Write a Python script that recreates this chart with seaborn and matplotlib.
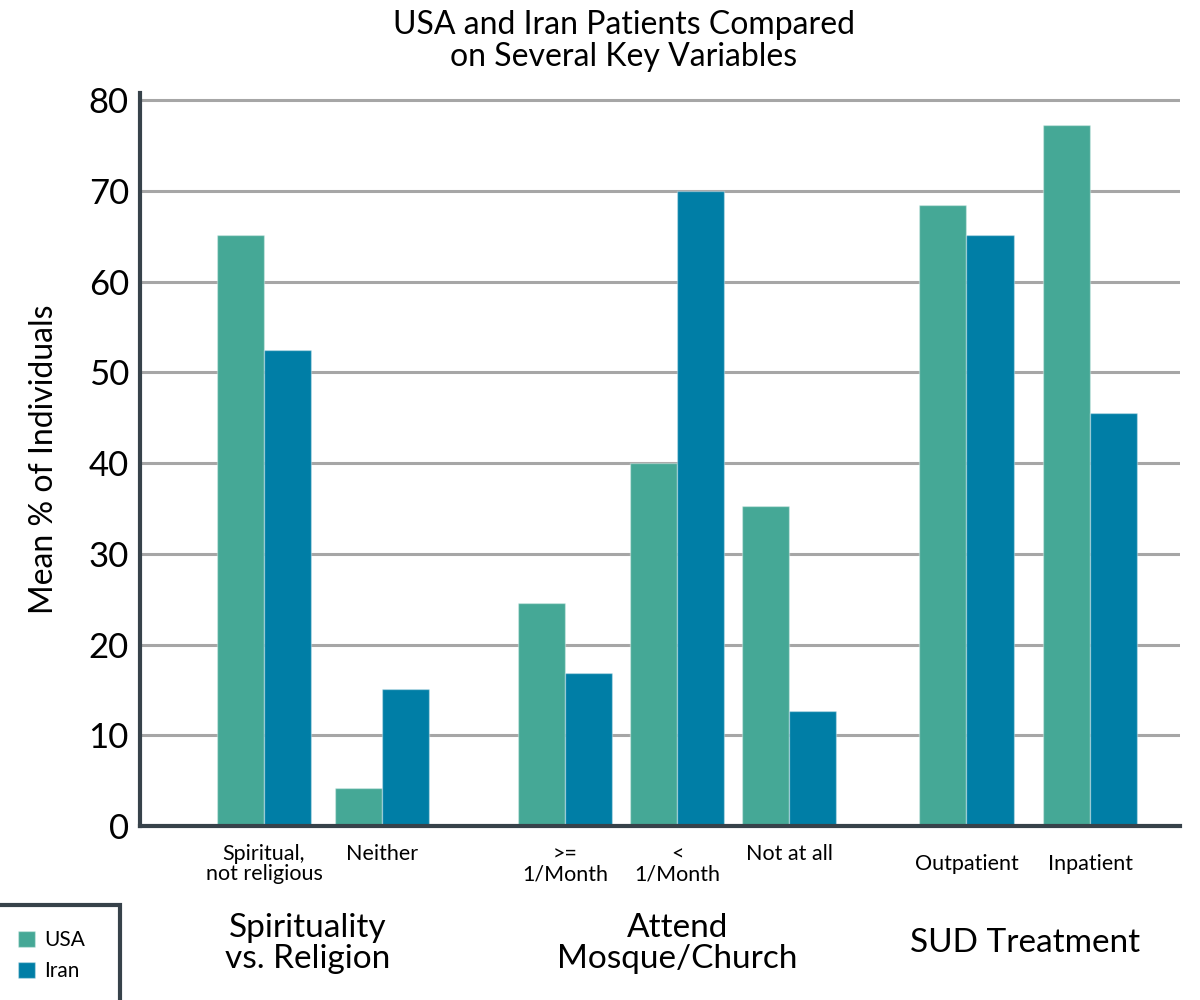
import seaborn as sns
import pandas as pd
import matplotlib.pyplot as plt
import matplotlib.transforms as mtransforms
from matplotlib.patches import Rectangle

# Values
categories = ["Spiritual,\nnot religious", "Neither", ">=\n1/Month", "<\n1/Month",
              "Not at all", "Outpatient", "Inpatient"]
usa = [65.2, 4.2, 24.6, 40.0, 35.3, 68.5, 77.3]
iran = [52.5, 15.1, 16.9, 70.0, 12.7, 65.2, 45.5]
groups = ["Spirituality\nvs. Religion", "Attend\nMosque/Church", "SUD Treatment"]
y_ticks = [0, 10, 20, 30, 40, 50, 60, 70, 80]

# layout: slot position of each category (gaps between groups) and of group labels
slots = [0, 1, 2.55, 3.5, 4.45, 5.95, 7.0]
group_slots = [0.37, 3.5, 6.45]

df = pd.DataFrame({
    "slot": slots * 2,
    "value": usa + iran,
    "country": ["USA"] * len(usa) + ["Iran"] * len(iran),
})

sns.set_style("white")
plt.rcParams["font.family"] = ["Lato", "DejaVu Sans"]
plt.rcParams["text.color"] = "black"
plt.rcParams["axes.labelcolor"] = "black"
plt.rcParams["ytick.color"] = "black"

fig = plt.figure(figsize=(12, 10), dpi=100)
ax = fig.add_axes([0.1167, 0.174, 0.8667, 0.733])

sns.barplot(data=df, x="slot", y="value", hue="country", native_scale=True,
            palette={"USA": "#45A896", "Iran": "#007EA6"}, saturation=1,
            width=0.84, edgecolor=(1, 1, 1, 0.35), linewidth=1, ax=ax, zorder=2)

ax.set_xlim(-1.05, 7.76)
ax.set_ylim(0, 80.8)
ax.set_yticks(y_ticks)
ax.set_yticklabels([str(t) for t in y_ticks], fontsize=25)
ax.tick_params(axis="y", length=0, pad=8)
ax.set_xticks([])
ax.set_xlabel("")
ax.set_ylabel("Mean % of Individuals", fontsize=23, labelpad=21)

ax.grid(axis="y", color="#A6A6A6", linewidth=2.2, zorder=0)
ax.set_axisbelow(True)
for side in ["top", "right"]:
    ax.spines[side].set_visible(False)
for side in ["left", "bottom"]:
    ax.spines[side].set_color("#37424A")
    ax.spines[side].set_linewidth(3)

# category labels under the bars
trans = mtransforms.blended_transform_factory(ax.transData, ax.transAxes)
for i, (s, lab) in enumerate(zip(slots, categories)):
    yoff = -0.025 if i < 5 else -0.038
    ax.text(s, yoff, lab, transform=trans, ha="center", va="top",
            fontsize=15.5, linespacing=1.0)

# group labels
for s, g in zip(group_slots, groups):
    ax.text(s, -0.16, g, transform=trans, ha="center", va="center",
            fontsize=24, linespacing=1.05)

fig.suptitle("USA and Iran Patients Compared\non Several Key Variables",
             x=0.52, y=0.99, fontsize=23, linespacing=1.08)

# legend with a box whose left and bottom run off the figure
fig.patches.append(Rectangle((-0.01, -0.01), 0.11, 0.105, transform=fig.transFigure,
                             facecolor="white", edgecolor="#37424A", linewidth=3,
                             zorder=0))
ax.legend_.remove()
handles, labels = ax.get_legend_handles_labels()
fig.legend(handles, labels, loc="upper left", bbox_to_anchor=(0.015, 0.07),
           fontsize=15, frameon=False, handlelength=0.8, handleheight=0.8,
           handletextpad=0.45, borderpad=0, labelspacing=0.55, borderaxespad=0)

fig.savefig("out.png", dpi=100)
